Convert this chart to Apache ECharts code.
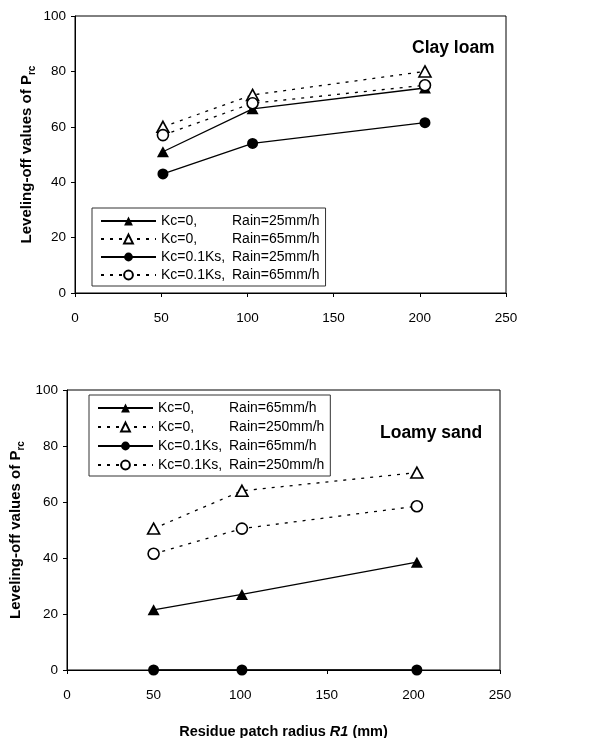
<!DOCTYPE html>
<html>
<head>
<meta charset="utf-8">
<script src="https://cdn.jsdelivr.net/npm/echarts@6/dist/echarts.min.js"></script>
<style>
  html, body { margin: 0; padding: 0; background: #fff; }
  .echart { position: absolute; left: 0; width: 593px; height: 369px; }
  #echartA { top: 0; }
  #echartB { top: 369px; }
</style>
</head>
<body>
<div class="echart" id="echartA"></div>
<div class="echart" id="echartB"></div>
<script>
// x positions (residue patch radius, mm)
var radiusClay = [51, 103, 203];
var radiusSand = [50, 101, 202];

// clay loam, leveling-off values of Prc
var clayKc0Rain25 = [51, 66.5, 74];
var clayKc0Rain65 = [60, 71.5, 80];
var clayKs01Rain25 = [43, 54, 61.5];
var clayKs01Rain65 = [57, 68.5, 75];

// loamy sand
var sandKc0Rain65 = [21.5, 27, 38.5];
var sandKc0Rain250 = [50.5, 64, 70.5];
var sandKs01Rain65 = [0, 0, 0];
var sandKs01Rain250 = [41.5, 50.5, 58.5];

var kcLabels = ["Kc=0,", "Kc=0,", "Kc=0.1Ks,", "Kc=0.1Ks,"];
var rainClay = ["Rain=25mm/h", "Rain=65mm/h", "Rain=25mm/h", "Rain=65mm/h"];
var rainSand = ["Rain=65mm/h", "Rain=250mm/h", "Rain=65mm/h", "Rain=250mm/h"];

var xTicks = { min: 0, max: 250, interval: 50 };
var yTicks = { min: 0, max: 100, interval: 20 };

var FONT = "Liberation Sans";

function pairs(xs, ys) {
  var out = [];
  for (var i = 0; i < xs.length; i++) out.push([xs[i], ys[i]]);
  return out;
}

// one series: shape triangle/circle, filled or open, solid or dotted line
function makeSeries(name, xs, ys, shape, filled, dashed) {
  return {
    name: name,
    type: "line",
    data: pairs(xs, ys),
    symbol: shape,
    symbolSize: shape === "triangle" ? [12, 11] : 11,
    clip: false,
    lineStyle: {
      color: "#000",
      width: 1.3,
      type: dashed ? [3, 6] : "solid",
    },
    itemStyle: {
      color: filled ? "#000" : "#fff",
      borderColor: "#000",
      borderWidth: filled ? 0 : 1.6,
    },
    emphasis: { disabled: true },
  };
}

function buildOption(opts) {
  var names = [];
  for (var i = 0; i < 4; i++) names.push(kcLabels[i] + " " + opts.rain[i]);
  var shapes = ["triangle", "triangle", "circle", "circle"];
  var filled = [true, false, true, false];
  var dashed = [false, true, false, true];
  var series = [];
  for (var j = 0; j < 4; j++) {
    series.push(makeSeries(names[j], opts.xs, opts.values[j], shapes[j], filled[j], dashed[j]));
  }
  return {
    backgroundColor: "#fff",
    animation: false,
    textStyle: { fontFamily: FONT, color: "#000" },
    title: {
      text: opts.title,
      left: opts.titlePos[0],
      top: opts.titlePos[1],
      textStyle: { fontFamily: FONT, fontSize: 17.5, fontWeight: "bold", color: "#000" },
    },
    grid: {
      left: opts.grid.left,
      top: opts.grid.top,
      width: opts.grid.width,
      height: opts.grid.height,
      outerBoundsMode: "none",
      show: true,
      borderColor: "#000",
      borderWidth: 1,
    },
    legend: {
      orient: "vertical",
      left: opts.legendPos[0],
      top: opts.legendPos[1],
      data: names,
      itemWidth: 55,
      itemHeight: 11,
      itemGap: opts.legendGap,
      padding: [6, 6, 4, 8],
      borderColor: "#333",
      borderWidth: 1,
      backgroundColor: "#fff",
      selectedMode: false,
      formatter: function (name) {
        var k = names.indexOf(name);
        return "{k|" + kcLabels[k] + "}{r|" + opts.rain[k] + "}";
      },
      textStyle: {
        fontFamily: FONT,
        fontSize: 14,
        color: "#000",
        rich: {
          k: { width: 71, fontSize: 14, fontFamily: FONT },
          r: { fontSize: 14, fontFamily: FONT },
        },
      },
    },
    xAxis: {
      type: "value",
      min: xTicks.min,
      max: xTicks.max,
      interval: xTicks.interval,
      name: opts.xName,
      nameLocation: "middle",
      nameGap: 54,
      nameMoveOverlap: false,
      nameTextStyle: {
        rich: {
          b: { fontFamily: FONT, fontSize: 14.5, fontWeight: "bold" },
          i: { fontFamily: FONT, fontSize: 14.5, fontWeight: "bold", fontStyle: "italic" },
        },
      },
      axisLine: { lineStyle: { color: "#000", width: 1 } },
      axisTick: { inside: false, length: 4, lineStyle: { color: "#000" } },
      axisLabel: { fontFamily: FONT, fontSize: 13.5, color: "#000", margin: 18 },
      splitLine: { show: false },
    },
    yAxis: {
      type: "value",
      min: yTicks.min,
      max: yTicks.max,
      interval: yTicks.interval,
      name: "{t|Leveling-off values of P}{s|rc}",
      nameLocation: "middle",
      nameGap: opts.yNameGap,
      nameMoveOverlap: false,
      nameTextStyle: {
        rich: {
          t: { fontFamily: FONT, fontSize: 15, fontWeight: "bold", lineHeight: 20, verticalAlign: "middle" },
          s: { fontFamily: FONT, fontSize: 10, fontWeight: "bold", lineHeight: 10, verticalAlign: "bottom" },
        },
      },
      axisLine: { show: true, lineStyle: { color: "#000", width: 1 } },
      axisTick: { show: true, inside: false, length: 4, lineStyle: { color: "#000" } },
      axisLabel: { fontFamily: FONT, fontSize: 13.5, color: "#000", margin: 9 },
      splitLine: { show: false },
    },
    series: series,
  };
}

var echartA = echarts.init(document.getElementById("echartA"));
var echartB = echarts.init(document.getElementById("echartB"));

echartA.setOption(buildOption({
  title: "Clay loam",
  titlePos: [407, 34],
  grid: { left: 75, top: 16, width: 431, height: 277 },
  legendPos: [92, 208],
  legendGap: 4,
  yNameGap: 38,
  rain: rainClay,
  xs: radiusClay,
  values: [clayKc0Rain25, clayKc0Rain65, clayKs01Rain25, clayKs01Rain65],
  xName: "",
}));

echartB.setOption(buildOption({
  title: "Loamy sand",
  titlePos: [375, 50],
  grid: { left: 67, top: 21, width: 433, height: 280 },
  legendPos: [89, 26],
  legendGap: 5,
  yNameGap: 41,
  rain: rainSand,
  xs: radiusSand,
  values: [sandKc0Rain65, sandKc0Rain250, sandKs01Rain65, sandKs01Rain250],
  xName: "{b|Residue patch radius }{i|R1}{b| (mm)}",
}));
</script>
</body>
</html>
